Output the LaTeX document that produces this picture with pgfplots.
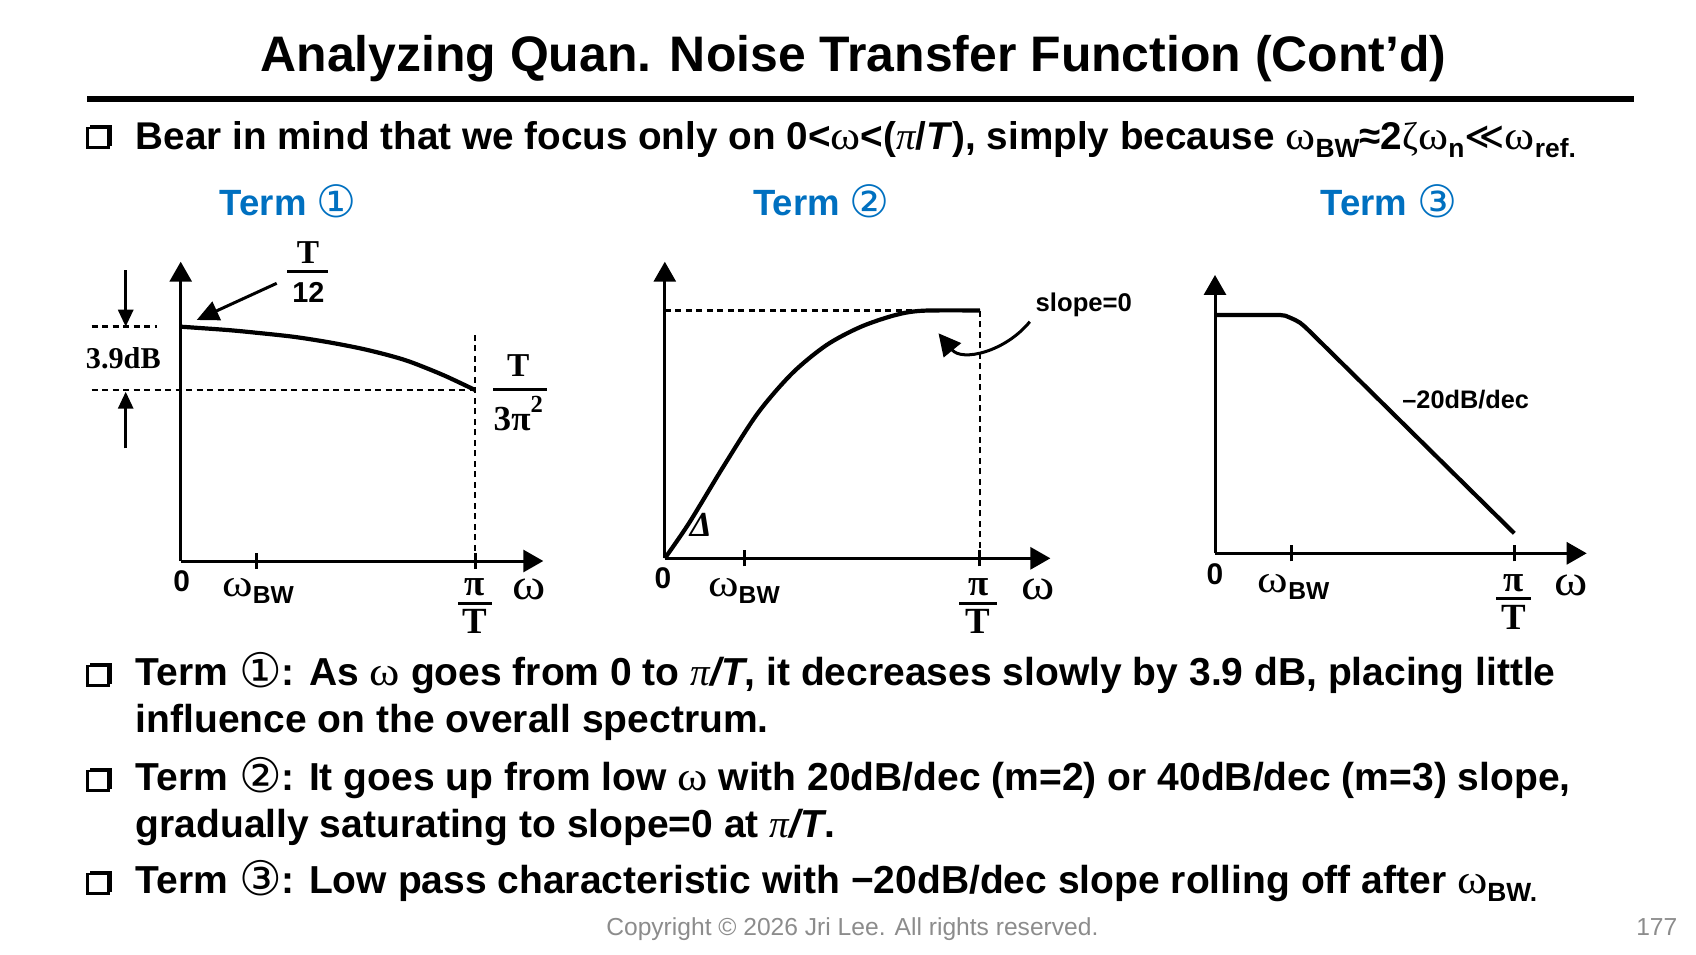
\documentclass[border=0pt]{standalone}
\usepackage{pgfplots}
\pgfplotsset{compat=1.18}
\usepackage{fontspec}
\setmainfont{Liberation Sans}
\newfontfamily\serif{Liberation Serif}
\newfontfamily\dejavu{DejaVu Sans}
\usetikzlibrary{arrows.meta}
\definecolor{termblue}{RGB}{0,112,192}
\definecolor{cpgray}{RGB}{140,140,140}
\newcommand{\fs}[1]{\fontsize{#1}{#1}\selectfont}
\newcommand{\om}{{\serif\mdseries\scalebox{1.18}[1.05]{ω}}}
\newcommand{\omg}[2][1.2]{{\fs{#2}\serif\mdseries\scalebox{#1}[1]{ω}}}
\newcommand{\sub}[2][7]{\raisebox{-0.4ex}{\fontsize{#1}{#1}\selectfont #2}}
\newcommand{\cnum}[1]{\raisebox{-0.12ex}{\scalebox{1.22}{\dejavu\mdseries #1}}}
\newcommand{\piT}{{\serif\mdseries\itshape π}\textit{/T}}
\newcommand{\bul}[2]{\fill (#1+2.5,#2) rectangle (#1+24.5,#2+20.5);
  \filldraw[fill=white,draw=black,line width=0.25mm] (#1+0.3,#2+3) rectangle (#1+21.5,#2+22.7);}
\pgfplotsset{sketch/.style={
  axis lines=left, enlargelimits=false, clip=false, anchor=south west,
  axis line style={line width=0.3mm,-{Triangle[width=2.2mm,length=2.0mm]}},
  every outer x axis line/.append style={-{Triangle[width=2.2mm,length=2.0mm]}},
  every outer y axis line/.append style={-{Triangle[width=2.2mm,length=2.0mm]}},
  ytick=\empty, xticklabels={,,}, tick align=center, major tick length=1.6mm,
  xtick style={line width=0.3mm, black},
}}
\tikzset{guide/.style={line width=0.25mm, dash pattern=on 0.6mm off 0.45mm},
  curve/.style={line width=0.42mm, black}}
\begin{document}
\begin{tikzpicture}
\useasboundingbox (0,0) rectangle (169.6mm,95.4mm);
\begin{scope}[x=0.1mm,y=-0.1mm,shift={(0,95.4mm)}]
\coordinate (O1) at (180.7,561);
\coordinate (O2) at (664.8,558.3);
\coordinate (O3) at (1215,553.3);
\end{scope}

% ---------- Term 1 ----------
\begin{axis}[sketch, at={(O1)}, x=29.43mm, y=1.623mm,
  xmin=0, xmax=1.2321, ymin=-14.437, ymax=4.005, xtick={0.256,1}]
\addplot[guide] coordinates {(-0.3024,-3.9) (1,-3.9)};
\addplot[guide] coordinates {(-0.3024,0) (-0.0815,0)};
\addplot[guide] coordinates {(1,-14.437) (1,-0.39)};
\addplot[curve, smooth] coordinates {(0,0) (0.156,-0.20) (0.25,-0.36) (0.383,-0.62) (0.5,-0.95) (0.609,-1.33) (0.7,-1.73) (0.779,-2.16) (0.892,-2.98) (1,-3.9)};
\end{axis}

% ---------- Term 2 ----------
\begin{axis}[sketch, at={(O2)}, x=31.5mm, y=24.78mm,
  xmin=0, xmax=1.2241, ymin=0, ymax=1.197, xtick={0.2514,1}]
\addplot[guide] coordinates {(0,1) (1,1)};
\addplot[guide] coordinates {(1,0) (1,1)};
\addplot[curve, smooth] coordinates {(0,0) (0.0765,0.1412) (0.1857,0.3697) (0.2949,0.5851) (0.4044,0.7466) (0.5137,0.8608) (0.6229,0.9346) (0.7324,0.9818) (0.8197,0.9992) (1,1)};
\end{axis}

% ---------- Term 3 ----------
\begin{axis}[sketch, at={(O3)}, x=29.93mm, y=23.83mm,
  xmin=0, xmax=1.2419, ymin=0, ymax=1.168, xtick={0.2563,1}]
\addplot[curve] coordinates {(0,1) (0.2172,1) (0.235,0.997) (0.2506,0.9889) (0.268,0.979) (0.284,0.9677) (0.3,0.951) (0.3174,0.93) (1,0.0839)};
\end{axis}

\begin{scope}[x=0.1mm,y=-0.1mm,shift={(0,95.4mm)}]
% title and rule
\node[anchor=base, inner sep=0] at (853.4,71) {\fs{14.2}\bfseries Analyzing Quan. Noise Transfer Function (Cont’d)};
\fill (86.6,96) rectangle (1634,102);
% first bullet
\bul{87}{125}
\node[anchor=base west, inner sep=0] at (135,149) {\fs{11}\bfseries Bear in mind that we focus only on 0<\om<({\serif\mdseries\itshape π}/\textit{T}), simply because \om\sub[7.5]{BW}≈2{\serif\mdseries ζ}\om\sub[7.5]{n}{\dejavu\mdseries ≪}\om\sub[7.5]{ref.}};
% headings
\node[anchor=base, inner sep=0, text=termblue] at (288.3,215) {\fs{10.4}\bfseries Term \cnum{①}};
\node[anchor=base, inner sep=0, text=termblue] at (821.5,215) {\fs{10.4}\bfseries Term \cnum{②}};
\node[anchor=base, inner sep=0, text=termblue] at (1389,215) {\fs{10.4}\bfseries Term \cnum{③}};

% ---- plot 1 annotations
\node[anchor=base, inner sep=0] at (123.3,368.3) {\fs{8.6}\serif\bfseries 3.9dB};
\draw[line width=0.3mm,-{Triangle[width=1.5mm,length=1.7mm]}] (125.7,270) -- (125.7,326.7);
\draw[line width=0.3mm,-{Triangle[width=1.5mm,length=1.7mm]}] (125.7,448.3) -- (125.7,391.7);
\draw[line width=0.3mm,-{Triangle[width=2.0mm,length=2.2mm]}] (276.7,283.3) -- (196.7,320);
\node[anchor=base, inner sep=0] at (308,263) {\fs{9.5}\serif\bfseries T};
\draw[line width=0.3mm] (287,271) -- (328,271);
\node[anchor=base, inner sep=0] at (308.5,302) {\fs{8.2}\bfseries 12};
\node[anchor=base, inner sep=0] at (518.3,376.7) {\fs{9.5}\serif\bfseries T};
\draw[line width=0.3mm] (493,389.3) -- (547,389.3);
\node[anchor=base west, inner sep=0] at (493,430) {\fs{10}\serif\bfseries 3π\raisebox{1.1ex}{\fs{7}2}};
\node[anchor=base, inner sep=0] at (181.7,591) {\fs{8.5}\bfseries 0};
\node[anchor=base west, inner sep=0] at (221.7,596) {\omg{11}\sub[7]{\bfseries BW}};
\node[anchor=base, inner sep=0] at (475,595) {\fs{10.5}\serif\bfseries π};
\draw[line width=0.3mm] (458,603) -- (492,603);
\node[anchor=base, inner sep=0] at (475,633) {\fs{10.5}\serif\bfseries T};
\node[anchor=base, inner sep=0] at (529,599.3) {\omg[1.15]{12.5}};

% ---- plot 2 annotations
\node[anchor=base, inner sep=0] at (663,588) {\fs{8.5}\bfseries 0};
\node[anchor=base west, inner sep=0] at (707.5,596) {\omg{11}\sub[7]{\bfseries BW}};
\node[anchor=base, inner sep=0] at (978.1,595) {\fs{10.5}\serif\bfseries π};
\draw[line width=0.3mm] (959,603) -- (997,603);
\node[anchor=base, inner sep=0] at (978.1,633) {\fs{10.5}\serif\bfseries T};
\node[anchor=base, inner sep=0] at (1038.4,599.3) {\omg[1.15]{12.5}};
\node[anchor=base west, inner sep=0] at (1035,311.7) {\fs{7.3}\bfseries slope=0};
\node[anchor=base, inner sep=0] at (701,536.7) {\fs{10}\serif\bfseries\itshape Δ};
\draw[line width=0.3mm,-{Triangle[width=2.2mm,length=2.2mm]}] (1029.8,321.7) .. controls (1005,352) and (962,362) .. (938.5,333.3);

% ---- plot 3 annotations
\node[anchor=base, inner sep=0] at (1215,584.5) {\fs{8.5}\bfseries 0};
\node[anchor=base west, inner sep=0] at (1257,592) {\omg{11}\sub[7]{\bfseries BW}};
\node[anchor=base, inner sep=0] at (1513.3,591) {\fs{10.5}\serif\bfseries π};
\draw[line width=0.3mm] (1496,598.3) -- (1531,598.3);
\node[anchor=base, inner sep=0] at (1513.3,629) {\fs{10.5}\serif\bfseries T};
\node[anchor=base, inner sep=0] at (1571,595) {\omg[1.15]{12.5}};
\node[anchor=base west, inner sep=0] at (1401.7,408.3) {\fs{7.2}\bfseries –20dB/dec};

% bottom bullets
\bul{87}{663}
\node[anchor=base west, inner sep=0] at (135,685.5) {\fs{11.1}\bfseries Term \cnum{①}: As \om{} goes from 0 to \piT, it decreases slowly by 3.9 dB, placing little};
\node[anchor=base west, inner sep=0] at (135,732.5) {\fs{11.1}\bfseries influence on the overall spectrum.};
\bul{87}{768}
\node[anchor=base west, inner sep=0] at (135,790.5) {\fs{11.1}\bfseries Term \cnum{②}: It goes up from low \om{} with 20dB/dec (m=2) or 40dB/dec (m=3) slope,};
\node[anchor=base west, inner sep=0] at (135,837.5) {\fs{11.1}\bfseries gradually saturating to slope=0 at \piT.};
\bul{87}{871}
\node[anchor=base west, inner sep=0] at (135,893.5) {\fs{11.1}\bfseries Term \cnum{③}: Low pass characteristic with −20dB/dec slope rolling off after \om\sub[7.5]{BW.}};
% footer
\node[anchor=base, inner sep=0, text=cpgray] at (852.4,935) {\fs{7}Copyright © 2026 Jri Lee. All rights reserved.};
\node[anchor=base east, inner sep=0, text=cpgray] at (1678,935) {\fs{7}177};
\end{scope}
\end{tikzpicture}
\end{document}
